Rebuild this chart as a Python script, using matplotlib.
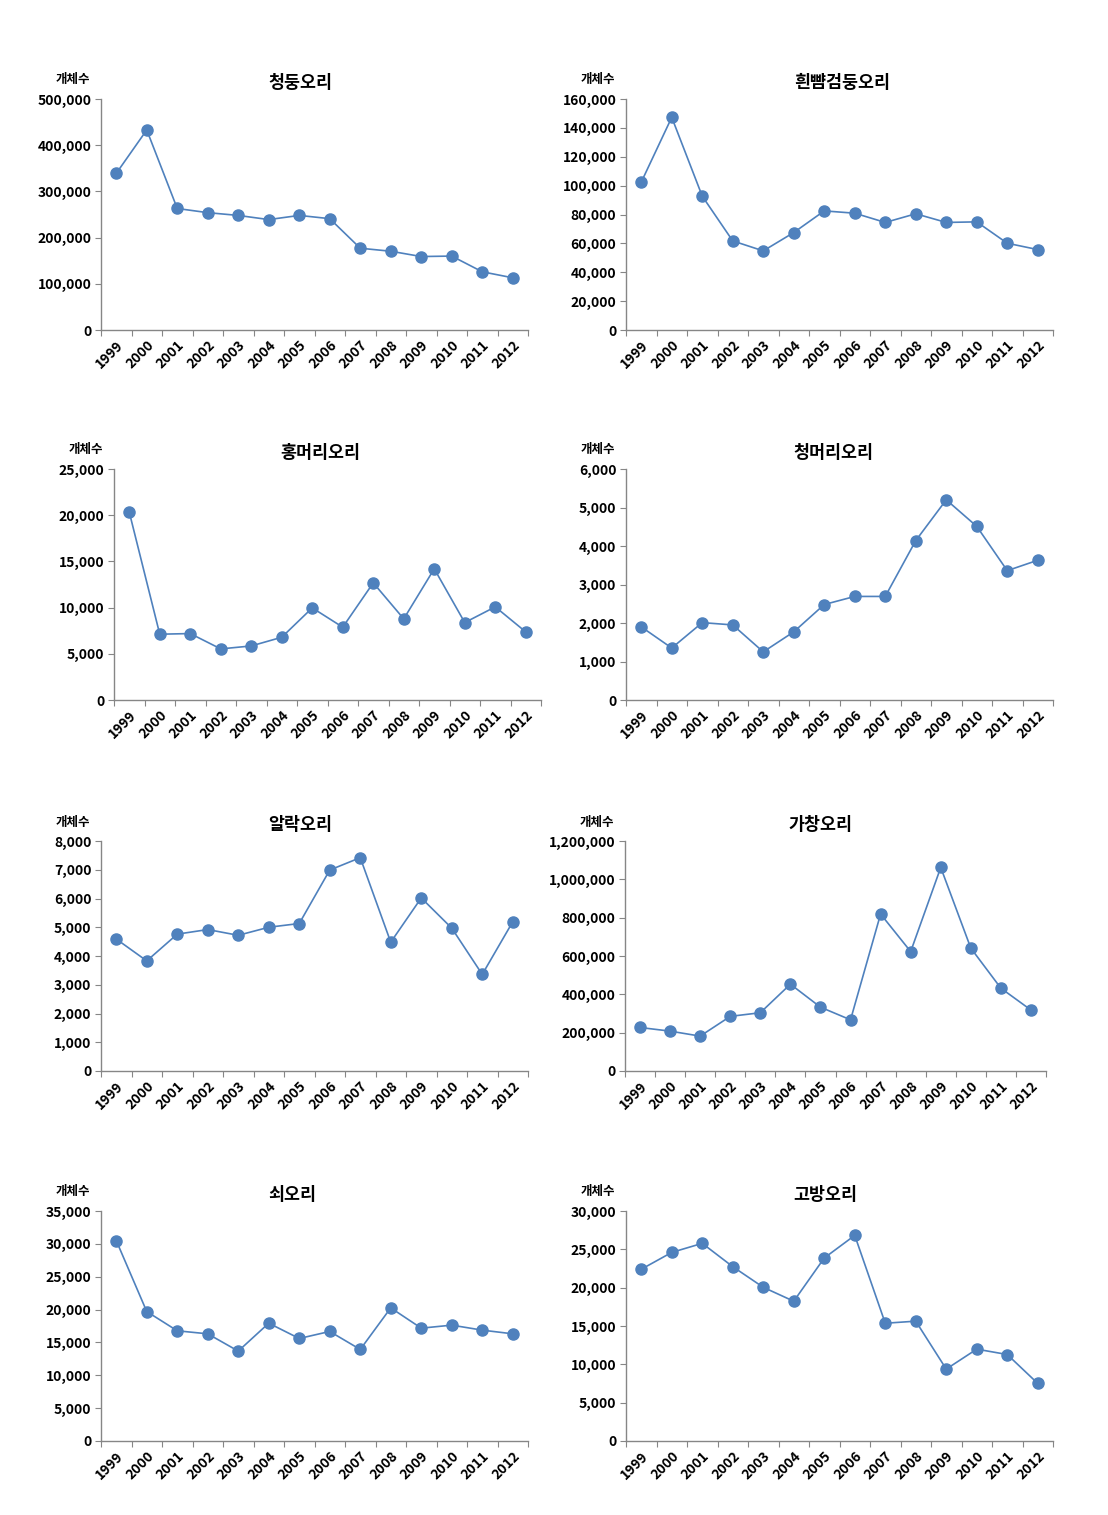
import numpy as np
import matplotlib
matplotlib.use("Agg")
import matplotlib.pyplot as plt
from matplotlib.ticker import FuncFormatter, FixedLocator

plt.rcParams['font.family'] = ['Noto Sans CJK KR', 'DejaVu Sans']

years = [str(y) for y in range(1999, 2013)]

titles = ["청둥오리", "흰뺨검둥오리", "홍머리오리", "청머리오리",
          "알락오리", "가창오리", "쇠오리", "고방오리"]

mallard = [339000, 433000, 263000, 254000, 248000, 239000, 248000, 241000,
           177000, 170500, 159000, 160000, 126000, 113000]
spotbill = [102400, 147300, 92700, 61700, 54800, 67500, 82500, 80900,
            74500, 80500, 74500, 74900, 60100, 55700]
wigeon = [20340, 7120, 7190, 5530, 5850, 6790, 9970, 7880,
          12680, 8780, 14200, 8380, 10080, 7370]
falcated = [1900, 1350, 2010, 1950, 1250, 1770, 2480, 2690,
            2690, 4140, 5200, 4510, 3360, 3630]
gadwall = [4590, 3830, 4760, 4920, 4720, 5000, 5130, 6990,
           7420, 4480, 6020, 4970, 3360, 5190]
baikal = [227000, 208000, 182000, 285000, 304000, 453000, 333000, 267000,
          819000, 623000, 1062000, 641000, 432000, 318000]
teal = [30500, 19700, 16770, 16310, 13680, 17930, 15600, 16670,
        13930, 20260, 17170, 17630, 16870, 16310]
pintail = [22400, 24600, 25780, 22740, 20050, 18230, 23870, 26820,
           15360, 15630, 9380, 11980, 11280, 7510]

series = [mallard, spotbill, wigeon, falcated, gadwall, baikal, teal, pintail]
y_max = [500000, 160000, 25000, 6000, 8000, 1200000, 35000, 30000]
y_step = [100000, 20000, 5000, 1000, 1000, 200000, 5000, 5000]

# axes boxes in pixels: left, top, right, bottom
boxes = [(101, 99, 528, 330), (626, 99, 1053, 330),
         (114, 469, 541, 700), (626, 469, 1053, 700),
         (101, 841, 528, 1071), (625, 841, 1046, 1071),
         (101, 1211, 528, 1441), (626, 1211, 1053, 1441)]
title_x = [300, 842, 320, 833, 300, 820, 292, 825]

W, H = 1108, 1515
fig = plt.figure(figsize=(W / 100, H / 100), dpi=100)

blue = "#4F81BD"
axis_grey = "#868686"
x = np.arange(len(years))

for i in range(8):
    l, t, r, b = boxes[i]
    ax = fig.add_axes([l / W, 1 - b / H, (r - l) / W, (b - t) / H])
    ax.plot(x, series[i], color=blue, lw=1.2, marker='o', ms=8,
            markerfacecolor=blue, markeredgecolor=blue, clip_on=False)
    ax.set_xlim(-0.5, len(years) - 0.5)
    ax.set_ylim(0, y_max[i])
    ax.set_yticks(np.arange(0, y_max[i] + 1, y_step[i]))
    ax.yaxis.set_major_formatter(FuncFormatter(lambda v, p: f"{int(v):,}"))
    ax.xaxis.set_major_locator(FixedLocator(np.arange(-0.5, len(years), 1.0)))
    ax.xaxis.set_major_formatter(FuncFormatter(lambda v, p: ""))
    ax.set_xticks(x, minor=True)
    ax.set_xticklabels(years, minor=True, rotation=45, ha='right',
                       rotation_mode='anchor', fontsize=10, fontweight='bold')
    ax.tick_params(axis='x', which='minor', length=0, pad=6)
    ax.tick_params(axis='x', which='major', length=4, color=axis_grey, direction='out')
    ax.tick_params(axis='y', length=4, color=axis_grey, direction='out',
                   labelsize=10, pad=3)
    for lab in ax.get_yticklabels():
        lab.set_fontweight('bold')
    for s in ['top', 'right']:
        ax.spines[s].set_visible(False)
    for s in ['left', 'bottom']:
        ax.spines[s].set_color(axis_grey)
        ax.spines[s].set_linewidth(1.0)
    fig.text(title_x[i] / W, 1 - (t - 16) / H, titles[i], ha='center', va='center',
             fontsize=12.5, fontweight='bold')
    fig.text((l - 28) / W, 1 - (t - 19) / H, "개체수", ha='center', va='center',
             fontsize=9, fontweight='bold')

fig.savefig("out.png", dpi=100, facecolor='white')
